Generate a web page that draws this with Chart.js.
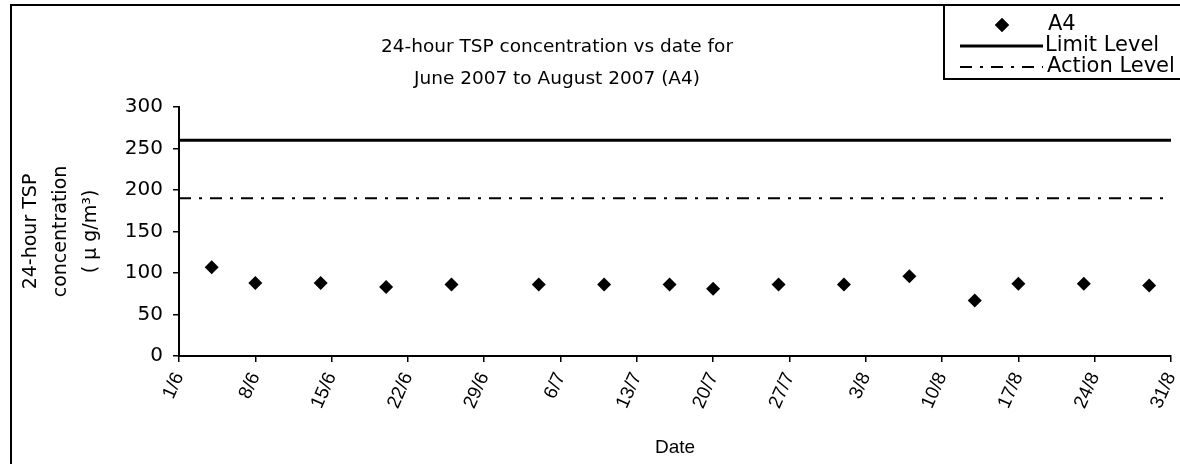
<!DOCTYPE html>
<html>
<head>
<meta charset="utf-8">
<script src="https://cdn.jsdelivr.net/npm/chart.js@4.4.0/dist/chart.umd.min.js"></script>
<style>
html,body{margin:0;padding:0;background:#fff;}
#wrap{width:1180px;height:464px;}
</style>
</head>
<body>
<div id="wrap"><canvas id="c" width="1180" height="464"></canvas></div>
<script>
// ---- data ----
const titleLines = ['24-hour TSP concentration vs date for', 'June 2007 to August 2007 (A4)'];
const sampleDates = ['4/6','8/6','14/6','20/6','26/6','4/7','10/7','16/7','20/7','26/7','1/8','7/8','13/8','17/8','23/8','29/8'];
const a4Values = [107, 88, 88, 83, 86, 86, 86, 86, 81, 86, 86, 96, 67, 87, 87, 85];
const limitLevel = 260;
const actionLevel = 190;
const xTickLabels = ['1/6','8/6','15/6','22/6','29/6','6/7','13/7','20/7','27/7','3/8','10/8','17/8','24/8','31/8'];
const yTickValues = [0, 50, 100, 150, 200, 250, 300];
const seriesNames = ['A4', 'Limit Level', 'Action Level'];
const yTitleLines = ['24-hour TSP', 'concentration', '( \u00B5 g/m\u00B3)'];
const xTitle = 'Date';

// days since 1 June 2007
function dayOffset(s) {
  const [d, m] = s.split('/').map(Number);
  return (Date.UTC(2007, m - 1, d) - Date.UTC(2007, 5, 1)) / 86400000;
}
const xMin = dayOffset(xTickLabels[0]);
const xMax = dayOffset(xTickLabels[xTickLabels.length - 1]);

const FONT_MAIN = "'DejaVu Sans', sans-serif";
const FONT_NARROW = "'Liberation Sans', Arial, sans-serif";

const decor = {
  id: 'decor',
  afterDraw(chart) {
    const ctx = chart.ctx;
    const W = chart.width, H = chart.height;
    ctx.save();
    // outer chart border (left + top)
    ctx.strokeStyle = '#000';
    ctx.lineWidth = 2;
    ctx.setLineDash([]);
    ctx.beginPath();
    ctx.moveTo(11, H);
    ctx.lineTo(11, 5);
    ctx.lineTo(W, 5);
    ctx.stroke();

    // title
    ctx.fillStyle = '#000';
    ctx.font = "18.5px " + FONT_MAIN;
    ctx.textAlign = 'center';
    ctx.textBaseline = 'middle';
    ctx.fillText(titleLines[0], 557, 47);
    ctx.fillText(titleLines[1], 557, 79);

    // legend box
    const bx = 944, by = 5, bb = 79;
    ctx.lineWidth = 2;
    ctx.beginPath();
    ctx.moveTo(bx, by);
    ctx.lineTo(bx, bb);
    ctx.lineTo(W, bb);
    ctx.stroke();

    const ds = chart.data.datasets;
    const rows = [25, 46, 67];
    ctx.font = "21px " + FONT_MAIN;
    ctx.textAlign = 'left';
    // A4 marker
    ctx.fillStyle = '#000';
    ctx.beginPath();
    Chart.helpers.drawPoint(ctx, {pointStyle: 'rectRot', radius: ds[0].pointRadius, rotation: 0}, 1002, rows[0]);
    ctx.fill();
    ctx.fillText(ds[0].label, 1048, rows[0]);
    // limit line
    ctx.lineWidth = ds[1].borderWidth;
    ctx.setLineDash([]);
    ctx.beginPath(); ctx.moveTo(960, rows[1]); ctx.lineTo(1043, rows[1]); ctx.stroke();
    ctx.fillText(ds[1].label, 1045, rows[1]);
    // action line
    ctx.lineWidth = ds[2].borderWidth;
    ctx.setLineDash(ds[2].borderDash);
    ctx.beginPath(); ctx.moveTo(960, rows[2]); ctx.lineTo(1043, rows[2]); ctx.stroke();
    ctx.setLineDash([]);
    ctx.fillText(ds[2].label, 1047, rows[2]);
    ctx.restore();
  }
};

new Chart(document.getElementById('c'), {
  type: 'scatter',
  data: {
    datasets: [
      {
        label: seriesNames[0],
        data: sampleDates.map((d, i) => ({x: dayOffset(d), y: a4Values[i]})),
        pointStyle: 'rectRot',
        pointRadius: 7,
        pointHoverRadius: 7,
        backgroundColor: '#000',
        borderColor: '#000',
        borderWidth: 0,
        showLine: false
      },
      {
        label: seriesNames[1],
        type: 'line',
        data: [{x: xMin, y: limitLevel}, {x: xMax, y: limitLevel}],
        borderColor: '#000',
        borderWidth: 3,
        pointRadius: 0,
        fill: false
      },
      {
        label: seriesNames[2],
        type: 'line',
        data: [{x: xMin, y: actionLevel}, {x: xMax, y: actionLevel}],
        borderColor: '#000',
        borderWidth: 2,
        borderDash: [12, 8, 3, 8],
        pointRadius: 0,
        fill: false
      }
    ]
  },
  options: {
    responsive: false,
    animation: false,
    devicePixelRatio: 1,
    layout: {padding: {left: 0, right: 9, top: 107, bottom: 0}},
    plugins: {legend: {display: false}, title: {display: false}, tooltip: {enabled: false}},
    scales: {
      x: {
        type: 'linear',
        min: xMin,
        max: xMax,
        afterBuildTicks: s => { s.ticks = xTickLabels.map(l => ({value: dayOffset(l)})); },
        afterFit: s => { s.height = 108; s.paddingLeft = 0; s.paddingRight = 0; },
        ticks: {
          callback: (v, i) => xTickLabels[i],
          autoSkip: false,
          minRotation: 66,
          maxRotation: 66,
          color: '#000',
          padding: 7,
          font: {family: FONT_NARROW, size: 19}
        },
        grid: {display: true, drawOnChartArea: false, drawTicks: true, tickLength: 6, color: '#000', lineWidth: 1.5},
        border: {display: true, color: '#000', width: 2},
        title: {display: true, text: xTitle, color: '#000', font: {family: FONT_NARROW, size: 19, lineHeight: '20px'}, padding: {top: 0, bottom: 6}}
      },
      y: {
        min: 0,
        max: 300,
        afterBuildTicks: s => { s.ticks = yTickValues.map(v => ({value: v})); },
        afterFit: s => { s.width = 179; },
        ticks: {color: '#000', padding: 10, font: {family: FONT_MAIN, size: 20}},
        grid: {display: true, drawOnChartArea: false, drawTicks: true, tickLength: 6, color: '#000', lineWidth: 1.5},
        border: {display: true, color: '#000', width: 2},
        title: {display: true, text: yTitleLines, color: '#000', font: {family: FONT_MAIN, size: 19, lineHeight: '30px'}, padding: {top: 16, bottom: 0}}
      }
    }
  },
  plugins: [decor]
});
</script>
</body>
</html>
